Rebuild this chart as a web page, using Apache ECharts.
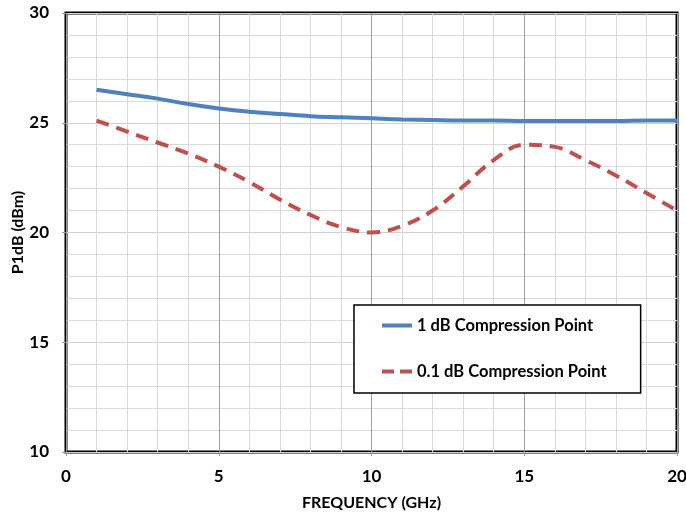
<!DOCTYPE html>
<html>
<head>
<meta charset="utf-8">
<script src="https://cdn.jsdelivr.net/npm/echarts@6/dist/echarts.min.js"></script>
<style>
  html, body { margin: 0; padding: 0; background: #fff; }
  #chart { width: 686px; height: 516px; }
</style>
</head>
<body>
<div id="chart"></div>
<script>
  // frequency in GHz
  var freq = [1, 2, 3, 4, 5, 6, 7, 8, 9, 10, 11, 12, 13, 14, 15, 16, 17, 18, 19, 20];
  var p1dB = [26.5, 26.3, 26.1, 25.85, 25.65, 25.5, 25.4, 25.3, 25.25, 25.2, 25.15, 25.12, 25.1, 25.1, 25.08, 25.08, 25.08, 25.08, 25.1, 25.1];
  var p01dB = [25.1, 24.6, 24.1, 23.6, 23.0, 22.3, 21.5, 20.8, 20.25, 20.0, 20.3, 21.0, 22.1, 23.3, 24.0, 23.9, 23.3, 22.6, 21.8, 21.0];
  var seriesNames = ['1 dB Compression Point', '0.1 dB Compression Point'];

  function pairs(xs, ys) {
    var out = [];
    for (var i = 0; i < xs.length; i++) out.push([xs[i], ys[i]]);
    return out;
  }

  var font = 'Lato, "Open Sans", sans-serif';
  var myChart = echarts.init(document.getElementById('chart'));
  myChart.setOption({
    backgroundColor: '#fff',
    animation: false,
    grid: {
      left: 66, right: 9, top: 13, bottom: 64,
      outerBoundsMode: 'none',
      containLabel: false,
      show: true,
      borderColor: '#000',
      borderWidth: 3
    },
    legend: {
      orient: 'vertical',
      left: 354,
      top: 305,
      padding: [12, 34, 13, 28],
      backgroundColor: '#fff',
      borderColor: '#000',
      borderWidth: 1.5,
      itemWidth: 30,
      itemHeight: 14,
      itemGap: 29,
      textStyle: { fontFamily: font, fontWeight: 'bold', fontSize: 16.5, color: '#000' },
      data: [
        { name: seriesNames[0], icon: 'path://M0,5 L30,5 L30,9 L0,9 Z' },
        { name: seriesNames[1], icon: 'path://M0,5 L12,5 L12,9 L0,9 Z M18,5 L30,5 L30,9 L18,9 Z' }
      ]
    },
    xAxis: {
      type: 'value',
      min: 0, max: 20, interval: 5,
      name: 'FREQUENCY (GHz)',
      nameLocation: 'middle',
      nameGap: 43,
      nameTextStyle: { fontFamily: font, fontWeight: 'bold', fontSize: 16, color: '#000' },
      axisLine: { show: false },
      axisTick: { show: true, length: 4, lineStyle: { color: '#999' } },
      axisLabel: { fontFamily: font, fontWeight: 'bold', fontSize: 17, color: '#000', margin: 16 },
      splitLine: { show: true, lineStyle: { color: '#a0a0a0', width: 1 } },
      minorTick: { show: false, splitNumber: 5 },
      minorSplitLine: { show: true, lineStyle: { color: '#d9d9d9', width: 1 } }
    },
    yAxis: {
      type: 'value',
      min: 10, max: 30, interval: 5,
      name: 'P1dB (dBm)',
      nameLocation: 'middle',
      nameGap: 40,
      nameMoveOverlap: false,
      nameTextStyle: { fontFamily: font, fontWeight: 'bold', fontSize: 16, color: '#000' },
      axisLine: { show: false },
      axisTick: { show: true, length: 4, lineStyle: { color: '#999' } },
      axisLabel: { fontFamily: font, fontWeight: 'bold', fontSize: 17, color: '#000', margin: 17 },
      splitLine: { show: true, lineStyle: { color: '#d0d0d0', width: 1 } },
      minorTick: { show: false, splitNumber: 5 },
      minorSplitLine: { show: true, lineStyle: { color: '#d9d9d9', width: 1 } }
    },
    series: [
      {
        name: seriesNames[0],
        type: 'line',
        smooth: 0.4,
        showSymbol: false,
        symbol: 'none',
        data: pairs(freq, p1dB),
        itemStyle: { color: '#4f81bd' },
        lineStyle: { color: '#4f81bd', width: 4 }
      },
      {
        name: seriesNames[1],
        type: 'line',
        smooth: 0.4,
        showSymbol: false,
        symbol: 'none',
        data: pairs(freq, p01dB),
        itemStyle: { color: '#c0504d' },
        lineStyle: { color: '#c0504d', width: 4, type: [13, 8] }
      }
    ]
  });
</script>
</body>
</html>
